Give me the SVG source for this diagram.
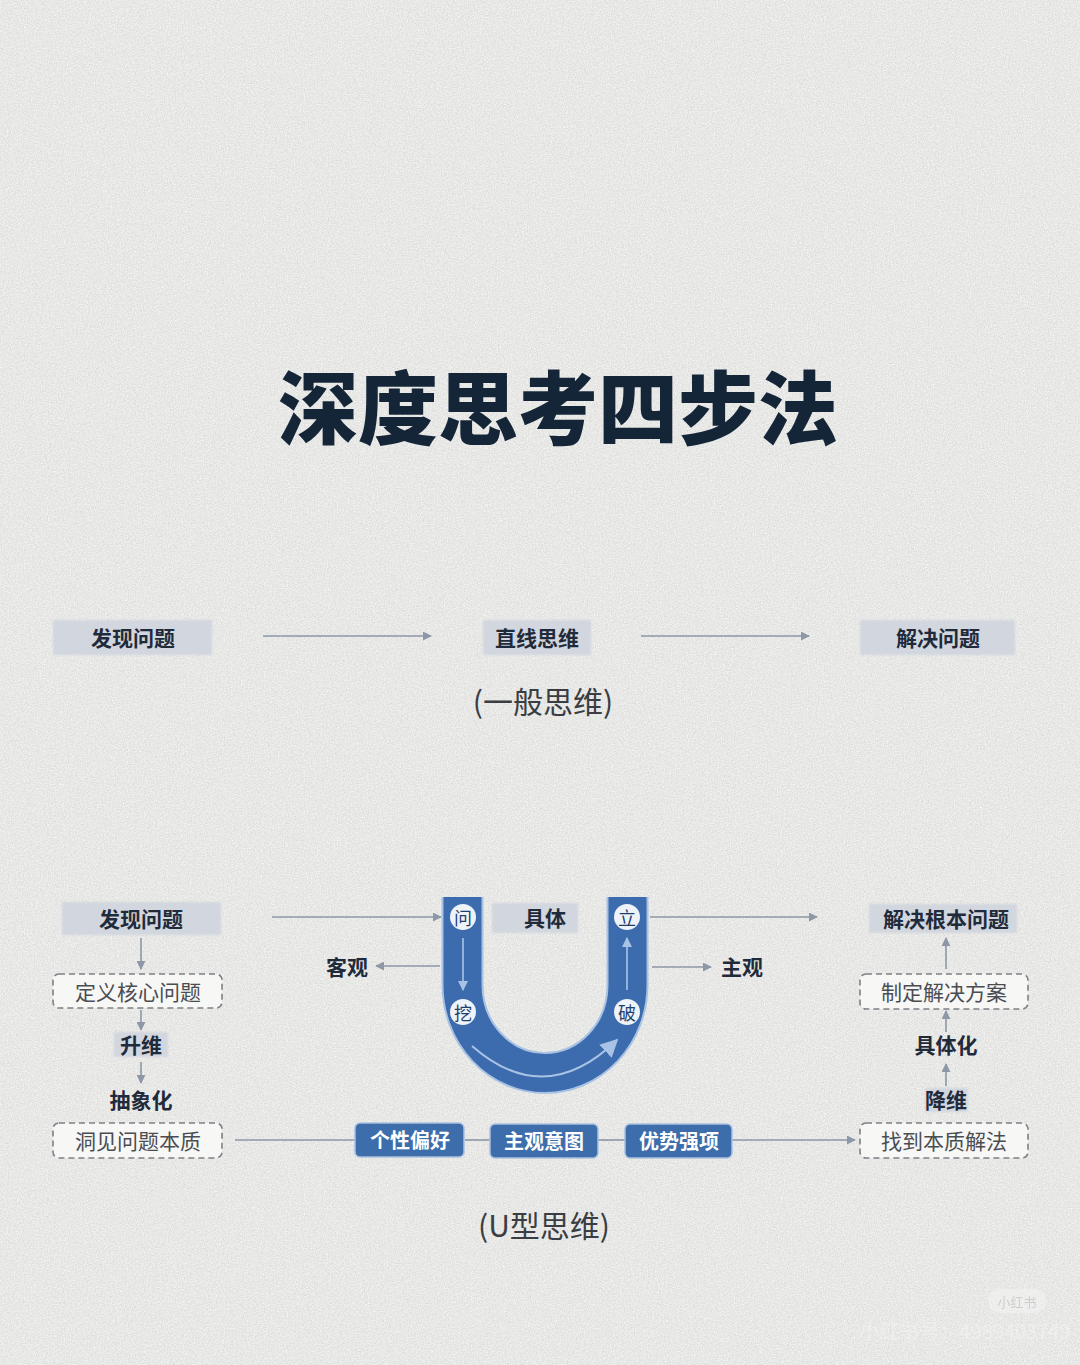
<svg xmlns="http://www.w3.org/2000/svg" width="1080" height="1365" viewBox="0 0 1080 1365">
<defs>
<filter id="noise" x="0" y="0" width="100%" height="100%">
<feTurbulence type="fractalNoise" baseFrequency="0.85" numOctaves="2" seed="3" result="t"/>
<feColorMatrix in="t" type="matrix" values="0 0 0 0 0.62  0 0 0 0 0.62  0 0 0 0 0.62  1.3 0 0 0 -0.5"/>
</filter>
<filter id="noise2" x="0" y="0" width="100%" height="100%">
<feTurbulence type="fractalNoise" baseFrequency="0.7" numOctaves="2" seed="11" result="t"/>
<feColorMatrix in="t" type="matrix" values="0 0 0 0 1  0 0 0 0 1  0 0 0 0 1  1.4 0 0 0 -0.55"/>
</filter>
<filter id="soft" x="-10%" y="-20%" width="120%" height="140%">
<feGaussianBlur stdDeviation="1.2"/>
</filter>
<marker id="ah" viewBox="0 0 10 10" refX="9" refY="5" markerWidth="9" markerHeight="9" markerUnits="userSpaceOnUse" orient="auto">
<path d="M0,0 L10,5 L0,10 z" fill="#8d97a6"/>
</marker>
<marker id="ahb" viewBox="0 0 10 10" refX="9" refY="5" markerWidth="10" markerHeight="10" markerUnits="userSpaceOnUse" orient="auto">
<path d="M0,0 L10,5 L0,10 z" fill="#a9c3e6"/>
</marker>
<marker id="ahbig" viewBox="0 0 10 10" refX="9" refY="5" markerWidth="18" markerHeight="18" markerUnits="userSpaceOnUse" orient="auto">
<path d="M0,0 L10,5 L0,10 z" fill="#a9c3e6"/>
</marker>
<style>
text{font-family:"Noto Sans CJK SC","Noto Sans",sans-serif;text-anchor:middle;dominant-baseline:central}
.b{font-weight:700;font-size:21px;fill:#1f2b3b}
.n{font-weight:400;font-size:21px;fill:#4a4d52}
.w{font-weight:700;font-size:20px;fill:#ffffff}
.cap{font-weight:400;font-size:30px;fill:#3a3d42}
.gbox{fill:#d2d6de;filter:url(#soft)}
.dbox{fill:#f7f7f6;stroke:#7d8085;stroke-width:1.6;stroke-dasharray:6 4}
.bbox{fill:#3e6dab;stroke:#a9c1e0;stroke-width:1.5}
.ln{stroke:#8d97a6;stroke-width:1.6;fill:none}
.c{fill:#eef3fa}
.ct{font-weight:400;font-size:18px;fill:#1f3e6e}
</style>
</defs>
<rect width="1080" height="1365" fill="#e7e7e5"/>
<rect width="1080" height="1365" filter="url(#noise)"/>
<rect width="1080" height="1365" filter="url(#noise2)"/>

<text x="558" y="403" style="font-weight:900;font-size:80px;fill:#142538">深度思考四步法</text>

<g id="connectors">
<line class="ln" x1="263" y1="636" x2="431" y2="636" marker-end="url(#ah)"/>
<line class="ln" x1="641" y1="636" x2="809" y2="636" marker-end="url(#ah)"/>
<line class="ln" x1="272" y1="917" x2="441" y2="917" marker-end="url(#ah)"/>
<line class="ln" x1="440" y1="966" x2="376" y2="966" marker-end="url(#ah)"/>
<line class="ln" x1="650" y1="917" x2="817" y2="917" marker-end="url(#ah)"/>
<line class="ln" x1="652" y1="967" x2="711" y2="967" marker-end="url(#ah)"/>
<line class="ln" x1="141" y1="938" x2="141" y2="969" marker-end="url(#ah)"/>
<line class="ln" x1="141" y1="1010" x2="141" y2="1030" marker-end="url(#ah)"/>
<line class="ln" x1="141" y1="1062" x2="141" y2="1083" marker-end="url(#ah)"/>
<line class="ln" x1="946" y1="969" x2="946" y2="938" marker-end="url(#ah)"/>
<line class="ln" x1="946" y1="1032" x2="946" y2="1011" marker-end="url(#ah)"/>
<line class="ln" x1="946" y1="1086" x2="946" y2="1064" marker-end="url(#ah)"/>
<line class="ln" x1="235" y1="1140" x2="355" y2="1140"/>
<line class="ln" x1="465" y1="1140" x2="490" y2="1140"/>
<line class="ln" x1="598" y1="1140" x2="625" y2="1140"/>
<line class="ln" x1="732" y1="1140" x2="855" y2="1140" marker-end="url(#ah)"/>
</g>

<g id="n-faxian1"><rect class="gbox" x="53" y="620" width="159" height="35"/><text class="b" x="133" y="637">发现问题</text></g>
<g id="n-zhixian"><rect class="gbox" x="483" y="620" width="108" height="35"/><text class="b" x="537" y="637">直线思维</text></g>
<g id="n-jiejue1"><rect class="gbox" x="860" y="620" width="155" height="35"/><text class="b" x="938" y="637">解决问题</text></g>
<text class="cap" x="543" y="700">(一般思维)</text>

<g id="n-U">
<path d="M462.5,897 V985 A82.5,88 0 0 0 627.5,985 V897" fill="none" stroke="#a8c2e4" stroke-width="42"/>
<path d="M462.5,897 V985 A82.5,88 0 0 0 627.5,985 V897" fill="none" stroke="#3d6cae" stroke-width="38"/>
<line x1="463" y1="938" x2="463" y2="990" stroke="#a9c3e6" stroke-width="1.6" marker-end="url(#ahb)"/>
<line x1="627" y1="990" x2="627" y2="938" stroke="#a9c3e6" stroke-width="1.6" marker-end="url(#ahb)"/>
<path d="M472,1046 Q545,1110 617,1040" fill="none" stroke="#a9c3e6" stroke-width="2" marker-end="url(#ahbig)"/>
<circle class="c" cx="463" cy="917" r="13"/><text class="ct" x="463" y="917">问</text>
<circle class="c" cx="463" cy="1012" r="13"/><text class="ct" x="463" y="1012">挖</text>
<circle class="c" cx="627" cy="917" r="13"/><text class="ct" x="627" y="917">立</text>
<circle class="c" cx="627" cy="1012" r="13"/><text class="ct" x="627" y="1012">破</text>
</g>
<g id="n-juti"><rect class="gbox" x="492" y="903" width="86" height="30"/><text class="b" x="545" y="917">具体</text></g>
<g id="n-keguan"><text class="b" x="347" y="966">客观</text></g>
<g id="n-zhuguan"><text class="b" x="742" y="966">主观</text></g>

<g id="n-faxian2"><rect class="gbox" x="62" y="902" width="159" height="33"/><text class="b" x="141" y="918">发现问题</text></g>
<g id="n-dingyi"><rect class="dbox" x="53" y="974" width="169" height="34" rx="6"/><text class="n" x="138" y="991">定义核心问题</text></g>
<g id="n-shengwei"><rect class="gbox" x="114" y="1032" width="54" height="25"/><text class="b" x="141" y="1044">升维</text></g>
<g id="n-chouxiang"><text class="b" x="141" y="1099">抽象化</text></g>
<g id="n-dongjian"><rect class="dbox" x="53" y="1123" width="169" height="35" rx="6"/><text class="n" x="138" y="1140">洞见问题本质</text></g>

<g id="n-gexing"><rect class="bbox" x="355" y="1123" width="109" height="34" rx="5"/><text class="w" x="410" y="1139">个性偏好</text></g>
<g id="n-zhuguanyitu"><rect class="bbox" x="490" y="1124" width="108" height="34" rx="5"/><text class="w" x="544" y="1140">主观意图</text></g>
<g id="n-youshi"><rect class="bbox" x="625" y="1124" width="107" height="34" rx="5"/><text class="w" x="679" y="1140">优势强项</text></g>

<g id="n-jiejue2"><rect class="gbox" x="869" y="904" width="148" height="29"/><text class="b" x="946" y="918">解决根本问题</text></g>
<g id="n-zhiding"><rect class="dbox" x="860" y="974" width="168" height="35" rx="6"/><text class="n" x="944" y="991">制定解决方案</text></g>
<g id="n-jutihua"><text class="b" x="946" y="1044">具体化</text></g>
<g id="n-jiangwei"><rect class="gbox" x="925" y="1088" width="43" height="24"/><text class="b" x="946" y="1099">降维</text></g>
<g id="n-zhaodao"><rect class="dbox" x="860" y="1123" width="168" height="35" rx="6"/><text class="n" x="944" y="1140">找到本质解法</text></g>

<text class="cap" x="544" y="1224">(U型思维)</text>

<g id="watermark" opacity="0.55">
<rect x="988" y="1289" width="58" height="24" rx="12" fill="#f4f4f4"/>
<text x="1017" y="1301" style="font-size:13px;fill:#b9b9b9">小红书</text>
<text x="965" y="1330" style="font-size:20px;fill:#f4f4f4">小红书号：4989403749</text>
</g>
</svg>
